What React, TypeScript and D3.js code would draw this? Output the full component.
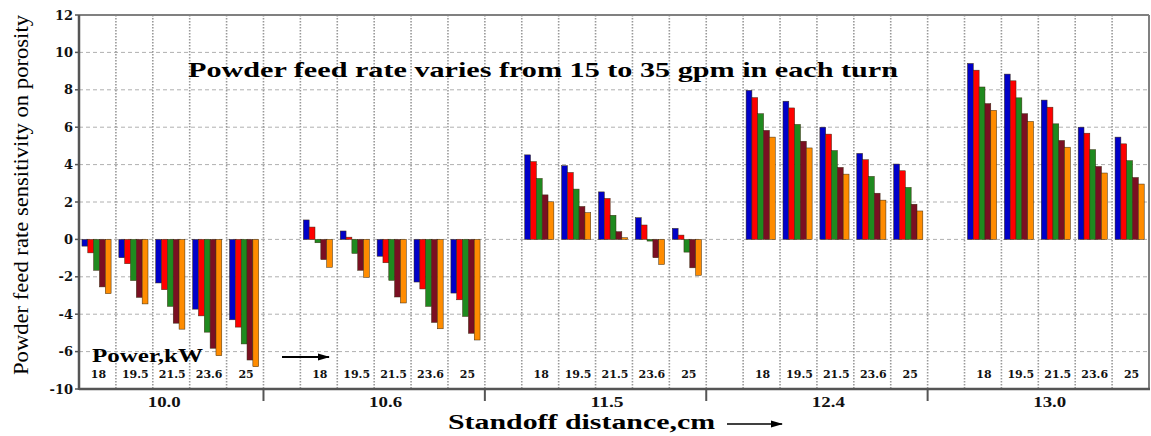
import React from "react";
import * as d3 from "d3";

// standoff distance groups (cm) and power levels (kW) inside each group
const distances = ["10.0", "10.6", "11.5", "12.4", "13.0"];
const powers = ["18", "19.5", "21.5", "23.6", "25"];

// powder feed rate series, 15 -> 35 gpm
const feedRates = ["15", "20", "25", "30", "35"];
const feedColors = ["#0000c8", "#ff0000", "#1f8a1f", "#7a0f22", "#ff8c00"];

// values ordered distance by distance, power by power (25 per series)
const feed15 = [-0.36, -0.98, -2.33, -3.73, -4.3, 1.04, 0.45, -0.9, -2.28, -2.87, 4.52, 3.94, 2.54, 1.16, 0.59, 7.97, 7.39, 6.0, 4.6, 4.03, 9.41, 8.84, 7.45, 6.0, 5.47];
const feed20 = [-0.72, -1.3, -2.69, -4.09, -4.69, 0.66, 0.12, -1.25, -2.65, -3.23, 4.16, 3.58, 2.19, 0.77, 0.23, 7.58, 7.03, 5.63, 4.26, 3.67, 9.05, 8.48, 7.07, 5.68, 5.11];
const feed25 = [-1.65, -2.2, -3.58, -4.96, -5.59, -0.18, -0.75, -2.19, -3.58, -4.12, 3.26, 2.69, 1.29, -0.09, -0.68, 6.72, 6.15, 4.75, 3.37, 2.78, 8.15, 7.57, 6.18, 4.8, 4.21];
const feed30 = [-2.54, -3.1, -4.48, -5.82, -6.45, -1.08, -1.65, -3.08, -4.44, -5.02, 2.38, 1.76, 0.41, -0.98, -1.52, 5.83, 5.25, 3.85, 2.47, 1.88, 7.26, 6.72, 5.29, 3.9, 3.31];
const feed35 = [-2.9, -3.45, -4.8, -6.22, -6.81, -1.49, -2.03, -3.4, -4.78, -5.38, 2.01, 1.43, 0.09, -1.34, -1.92, 5.47, 4.89, 3.49, 2.1, 1.52, 6.9, 6.31, 4.93, 3.55, 2.96];
const seriesValues = [feed15, feed20, feed25, feed30, feed35];

// y axis ticks (the bottom one is labelled -10 in the original)
const yTickValues = [12, 10, 8, 6, 4, 2, 0, -2, -4, -6, -8];
const yTickLabels = ["12", "10", "8", "6", "4", "2", "0", "-2", "-4", "-6", "-10"];

const W = 1151;
const H = 436;
const left = 79;
const right = 1149;
const top = 15;
const bottom = 389;

const serif = "'Liberation Serif', 'Times New Roman', serif";
const wideSerif = "'DejaVu Serif', serif";

export default function App() {
  // slots: a gap slot before every group except the first, then one slot per power
  const slots: string[] = [];
  distances.forEach((d, gi) => {
    if (gi > 0) slots.push(`gap-${d}`);
    powers.forEach((p) => slots.push(`${d}|${p}`));
  });

  const x = d3.scaleBand().domain(slots).range([left, right]);
  const bw = x.bandwidth();
  const xInner = d3.scaleBand().domain(feedRates).range([bw * 0.08, bw * 0.87]);
  const y = d3.scaleLinear().domain([-8, 12]).range([bottom, top]);

  const boundaries = slots.slice(1).map((s) => x(s) as number);
  const groupTicks = slots.filter((s) => s.startsWith("gap")).map((s) => x(s) as number);

  return (
    <svg width={W} height={H} style={{ position: "absolute", left: 0, top: 0, background: "#fff" }}>
      <defs>
        <marker id="arr2" viewBox="0 0 12 8" refX="11" refY="4" markerWidth="12" markerHeight="8" orient="auto" markerUnits="userSpaceOnUse">
          <path d="M0,0.5 L12,4 L0,7.5 z" fill="#000" />
        </marker>
      </defs>

      {/* horizontal dashed grid */}
      {yTickValues
        .filter((v) => v !== 12 && v !== -8)
        .map((v) => (
          <line key={`h${v}`} x1={left} x2={right} y1={y(v)} y2={y(v)} stroke="#b0b0b0" strokeWidth={1} strokeDasharray="4,3" />
        ))}

      {/* vertical dotted grid at slot boundaries */}
      {boundaries.map((bx, i) => (
        <line key={`v${i}`} x1={bx} x2={bx} y1={top} y2={bottom} stroke="#999" strokeWidth={1.6} strokeDasharray="1.5,1.5" />
      ))}

      {/* bars */}
      {distances.map((d, gi) =>
        powers.map((p, pi) =>
          feedRates.map((f, si) => {
            const v = seriesValues[si][gi * powers.length + pi];
            const bx = (x(`${d}|${p}`) as number) + (xInner(f) as number);
            return (
              <rect
                key={`${d}-${p}-${f}`}
                x={bx}
                y={Math.min(y(v), y(0))}
                width={xInner.bandwidth()}
                height={Math.abs(y(v) - y(0))}
                fill={feedColors[si]}
                stroke="#3a2a10"
                strokeWidth={0.5}
              />
            );
          })
        )
      )}

      {/* frame */}
      <line x1={left} x2={right} y1={top} y2={top} stroke="#808080" strokeWidth={2} />
      <line x1={right} x2={right} y1={top} y2={bottom} stroke="#808080" strokeWidth={2} />
      <line x1={left} x2={left} y1={top} y2={bottom + 1} stroke="#555" strokeWidth={2.5} />
      <line x1={left} x2={right + 1} y1={bottom} y2={bottom} stroke="#555" strokeWidth={2.5} />

      {/* y ticks */}
      {yTickValues.map((v, i) => (
        <g key={`yt${v}`}>
          <line x1={left - 4} x2={left} y1={y(v)} y2={y(v)} stroke="#555" strokeWidth={1.5} />
          <text x={73} y={y(v)} dy="0.36em" textAnchor="end" fontFamily={wideSerif} fontWeight="bold" fontSize={13} fill="#111">
            {yTickLabels[i]}
          </text>
        </g>
      ))}

      {/* group separators on the x axis */}
      {groupTicks.map((gx, i) => (
        <line key={`gt${i}`} x1={gx} x2={gx} y1={bottom} y2={bottom + 12} stroke="#555" strokeWidth={2} />
      ))}

      {/* power labels */}
      {distances.map((d) =>
        powers.map((p) => (
          <text key={`pl${d}${p}`} x={(x(`${d}|${p}`) as number) + bw / 2 + 1} y={378} textAnchor="middle" fontFamily={wideSerif} fontWeight="bold" fontSize={11} fill="#111">
            {p}
          </text>
        ))
      )}

      {/* distance labels */}
      {distances.map((d) => (
        <text key={`dl${d}`} x={(x(`${d}|${powers[2]}`) as number) + bw / 2 - 7} y={407} textAnchor="middle" fontFamily={serif} fontWeight="bold" fontSize={14} textLength={33} lengthAdjust="spacingAndGlyphs" fill="#111">
          {d}
        </text>
      ))}

      {/* annotations */}
      <text x={188} y={77} fontFamily={serif} fontWeight="bold" fontSize={21} textLength={710} lengthAdjust="spacingAndGlyphs" fill="#000">
        Powder feed rate varies from 15 to 35 gpm in each turn
      </text>
      <text x={92} y={362} fontFamily={serif} fontWeight="bold" fontSize={18} textLength={111} lengthAdjust="spacingAndGlyphs" fill="#000">
        Power,kW
      </text>
      <line x1={282} x2={329} y1={357} y2={357} stroke="#000" strokeWidth={2} markerEnd="url(#arr2)" />

      {/* axis titles */}
      <text transform="translate(28,195) rotate(-90)" textAnchor="middle" fontFamily={serif} fontSize={22} textLength={360} lengthAdjust="spacingAndGlyphs" fill="#000">
        Powder feed rate sensitivity on porosity
      </text>
      <text x={448} y={429} fontFamily={serif} fontWeight="bold" fontSize={20} textLength={267} lengthAdjust="spacingAndGlyphs" fill="#000">
        Standoff distance,cm
      </text>
      <line x1={727} x2={782} y1={424} y2={424} stroke="#000" strokeWidth={1.5} markerEnd="url(#arr2)" />
    </svg>
  );
}
